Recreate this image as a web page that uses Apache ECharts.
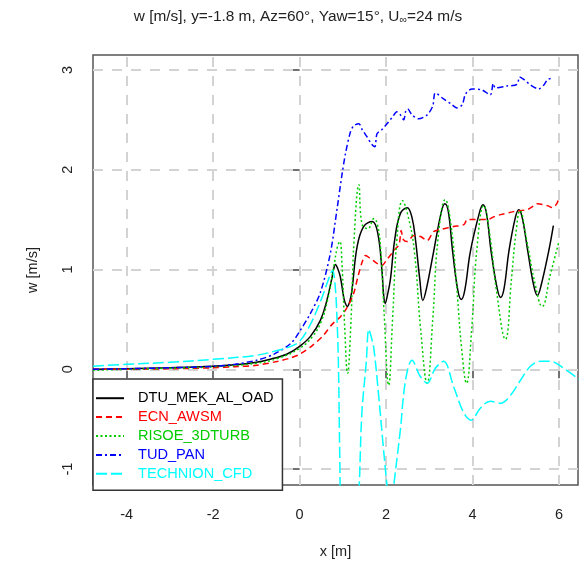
<!DOCTYPE html>
<html>
<head>
<meta charset="utf-8">
<script src="https://cdn.jsdelivr.net/npm/echarts@6/dist/echarts.min.js"></script>
<style>html,body{margin:0;padding:0;background:#fff}#c{width:581px;height:564px}</style>
</head>
<body>
<div id="c"></div>
<script>
// ---- data ----
const seriesNames = ['DTU_MEK_AL_OAD', 'ECN_AWSM', 'RISOE_3DTURB', 'TUD_PAN', 'TECHNION_CFD'];
const xTicks = [-4, -2, 0, 2, 4, 6];
const yTicks = [-1, 0, 1, 2, 3];

const dtuX = [-4.78,-4.0,-3.0,-2.0,-1.5,-1.0,-0.6,-0.3,0.0,0.25,0.48,0.63,0.75,0.79,0.83,0.88,0.94,1.02,1.05,1.10,1.16,1.21,1.33,1.48,1.68,1.81,1.91,1.94,1.98,2.03,2.10,2.20,2.33,2.49,2.60,2.68,2.78,2.85,2.93,3.10,3.28,3.36,3.44,3.54,3.66,3.74,3.82,3.95,4.16,4.24,4.32,4.43,4.57,4.65,4.73,4.84,4.99,5.07,5.15,5.28,5.42,5.50,5.58,5.76,5.87];
const dtuY = [0.0,0.005,0.015,0.03,0.045,0.07,0.11,0.15,0.23,0.33,0.49,0.69,0.92,1.01,1.05,1.01,0.93,0.72,0.67,0.63,0.68,0.79,1.23,1.43,1.48,1.36,0.96,0.76,0.66,0.74,0.90,1.30,1.56,1.62,1.52,1.30,0.90,0.69,0.80,1.18,1.58,1.66,1.58,1.18,0.79,0.70,0.79,1.18,1.57,1.65,1.57,1.18,0.81,0.72,0.81,1.18,1.52,1.60,1.52,1.18,0.83,0.74,0.83,1.18,1.44];

const ecnX = [-4.78,-4.0,-3.0,-2.0,-1.5,-1.0,-0.5,-0.2,0.0,0.3,0.55,0.75,0.95,1.10,1.25,1.35,1.45,1.52,1.64,1.80,1.90,2.02,2.20,2.30,2.35,2.40,2.49,2.64,2.80,2.95,3.10,3.26,3.56,3.80,3.88,4.05,4.34,4.50,4.65,4.95,5.26,5.35,5.50,5.73,5.85,5.95,6.0];
const ecnY = [0.0,0.0,0.005,0.015,0.025,0.04,0.08,0.115,0.15,0.24,0.34,0.45,0.53,0.62,0.76,0.93,1.08,1.14,1.11,1.06,1.04,1.10,1.20,1.25,1.39,1.30,1.28,1.34,1.33,1.29,1.38,1.40,1.43,1.45,1.50,1.50,1.50,1.53,1.55,1.58,1.60,1.62,1.66,1.64,1.62,1.66,1.72];

const risoeX = [-4.78,-4.0,-3.0,-2.0,-1.0,-0.5,0.0,0.3,0.5,0.65,0.78,0.87,0.93,0.98,1.04,1.11,1.18,1.26,1.37,1.44,1.58,1.72,1.80,1.87,1.95,2.06,2.15,2.25,2.38,2.50,2.65,2.80,2.95,3.08,3.20,3.37,3.50,3.62,3.75,3.86,3.98,4.10,4.26,4.40,4.55,4.76,4.90,5.00,5.10,5.25,5.45,5.61,5.80,6.00];
const risoeY = [-0.01,0.0,0.01,0.025,0.06,0.11,0.21,0.33,0.48,0.70,1.0,1.22,1.28,1.05,0.45,-0.04,0.40,1.30,1.85,1.46,1.41,1.51,1.45,1.23,0.60,-0.16,0.50,1.30,1.69,1.55,1.20,0.40,-0.14,0.50,1.30,1.70,1.45,0.90,0.20,-0.14,0.40,1.20,1.64,1.35,0.80,0.30,0.90,1.35,1.59,1.30,0.85,0.63,0.95,1.28];

const tudX = [-4.78,-4.0,-3.0,-2.0,-1.5,-1.0,-0.6,-0.2,0.0,0.25,0.48,0.71,0.87,0.98,1.06,1.17,1.25,1.37,1.45,1.56,1.66,1.74,1.79,1.90,2.02,2.15,2.25,2.33,2.41,2.45,2.50,2.60,2.75,2.95,3.08,3.14,3.33,3.50,3.64,3.76,3.84,3.99,4.22,4.41,4.48,4.53,4.80,5.03,5.09,5.20,5.34,5.53,5.65,5.73,5.84];
const tudY = [0.0,0.005,0.015,0.03,0.05,0.09,0.15,0.26,0.38,0.56,0.77,1.16,1.62,1.95,2.16,2.37,2.44,2.46,2.40,2.33,2.26,2.23,2.36,2.40,2.46,2.53,2.58,2.55,2.50,2.58,2.61,2.55,2.51,2.55,2.64,2.77,2.71,2.66,2.62,2.65,2.76,2.81,2.80,2.75,2.865,2.82,2.84,2.855,2.93,2.90,2.85,2.81,2.85,2.90,2.92];

const techX = [-4.78,-4.0,-3.0,-2.0,-1.0,-0.5,-0.2,0.0,0.25,0.50,0.65,0.76,0.82,0.87,0.90,0.93,0.97,1.15,1.32,1.38,1.44,1.54,1.60,1.66,1.72,1.83,1.93,2.02,2.10,2.18,2.33,2.45,2.60,2.79,2.95,3.14,3.33,3.56,3.80,3.97,4.18,4.41,4.65,4.88,5.11,5.34,5.57,5.80,6.11,6.46];
const techY = [0.03,0.05,0.07,0.10,0.14,0.19,0.23,0.28,0.45,0.70,0.88,0.99,0.85,0.45,0.0,-0.9,-1.6,-2.2,-1.7,-1.16,-0.44,0.06,0.40,0.32,0.20,-0.27,-0.75,-1.16,-1.5,-1.16,-0.61,-0.11,0.09,-0.07,-0.14,0.01,0.08,-0.17,-0.44,-0.51,-0.39,-0.32,-0.34,-0.26,-0.11,0.03,0.08,0.08,0.01,-0.10];

const colors = ['#000000', '#ff0000', '#00cd00', '#0000ff', '#00ffff'];
const dashes = ['solid', [6, 4], [2, 2.5], [6, 3, 2, 3], [11, 4]];
const smoothing = [0.4, 0.3, 0.45, 0.3, 0.35];
const xs = [dtuX, ecnX, risoeX, tudX, techX];
const ys = [dtuY, ecnY, risoeY, tudY, techY];

const FONT = 'Liberation Sans, Arial, sans-serif';
const zip = (a, b) => a.map((v, i) => [v, b[i]]);

const gridLines = [];
xTicks.forEach(v => gridLines.push({ xAxis: v }));
yTicks.forEach(v => gridLines.push({ yAxis: v }));

const series = [{
  name: '__grid', type: 'line', data: [], z: 1, silent: true,
  markLine: {
    z: 1, silent: true, symbol: 'none', animation: false,
    label: { show: false },
    lineStyle: { color: '#d3d3d3', width: 2, type: [10, 9] },
    data: gridLines
  }
}];
seriesNames.forEach((n, i) => {
  series.push({
    name: n, type: 'line', data: zip(xs[i], ys[i]),
    showSymbol: false, symbol: 'none', smooth: smoothing[i], z: 3 + i,
    lineStyle: { color: colors[i], width: 1.5, type: dashes[i] },
    itemStyle: { color: colors[i] },
    animation: false
  });
});

const chart = echarts.init(document.getElementById('c'), null, { renderer: 'canvas' });
chart.setOption({
  animation: false,
  backgroundColor: '#ffffff',
  textStyle: { fontFamily: FONT },
  title: {
    text: '{t|w [m/s], y=-1.8 m, Az=60°, Yaw=15°, U}{s|∞}{t|=24 m/s}',
    left: 298, top: 7, padding: 0, textAlign: 'center',
    textStyle: {
      fontWeight: 'normal',
      rich: {
        t: { fontSize: 15.4, fontWeight: 'normal', color: '#222', fontFamily: FONT },
        s: { fontSize: 10.5, fontWeight: 'normal', color: '#222', fontFamily: FONT, padding: [8, 0, 0, 0] }
      }
    }
  },
  grid: {
    left: 93, top: 55, right: 3, bottom: 79,
    show: true, borderColor: '#555', borderWidth: 1.5, backgroundColor: 'transparent'
  },
  legend: {
    orient: 'vertical', left: 93, top: 379,
    padding: [11.7, 9, 9, 2],
    itemWidth: 28, itemHeight: 14, itemGap: 3.9,
    backgroundColor: '#ffffff', borderColor: '#333', borderWidth: 1.5, borderRadius: 0,
    selectedMode: false,
    itemStyle: { color: 'rgba(0,0,0,0)', borderWidth: 0, opacity: 0 },
    textStyle: { fontSize: 14.6, lineHeight: 14, fontFamily: FONT, padding: [0, 0, 0, 9] },
    data: seriesNames.map((n, i) => ({ name: n, textStyle: { color: colors[i] } }))
  },
  xAxis: {
    type: 'value', min: -4.78, max: 6.44,
    name: 'x [m]', nameLocation: 'middle', nameGap: 59,
    nameTextStyle: { fontSize: 14.5, color: '#222', fontFamily: FONT },
    axisLine: { show: false },
    axisTick: { show: true, length: 9, customValues: xTicks, lineStyle: { color: '#444', width: 1.5 } },
    axisLabel: { customValues: xTicks, margin: 22, fontSize: 14.5, color: '#222', fontFamily: FONT },
    splitLine: { show: false }
  },
  yAxis: {
    type: 'value', min: -1.16, max: 3.15,
    name: 'w [m/s]', nameLocation: 'middle', nameGap: 53,
    nameTextStyle: { fontSize: 14.5, color: '#222', fontFamily: FONT },
    axisLine: { show: false },
    axisTick: { show: true, length: 9, customValues: yTicks, lineStyle: { color: '#444', width: 1.5 } },
    axisLabel: { customValues: yTicks, rotate: 90, margin: 18, fontSize: 14.5, color: '#222', fontFamily: FONT },
    splitLine: { show: false }
  },
  series: series
});
</script>
</body>
</html>
